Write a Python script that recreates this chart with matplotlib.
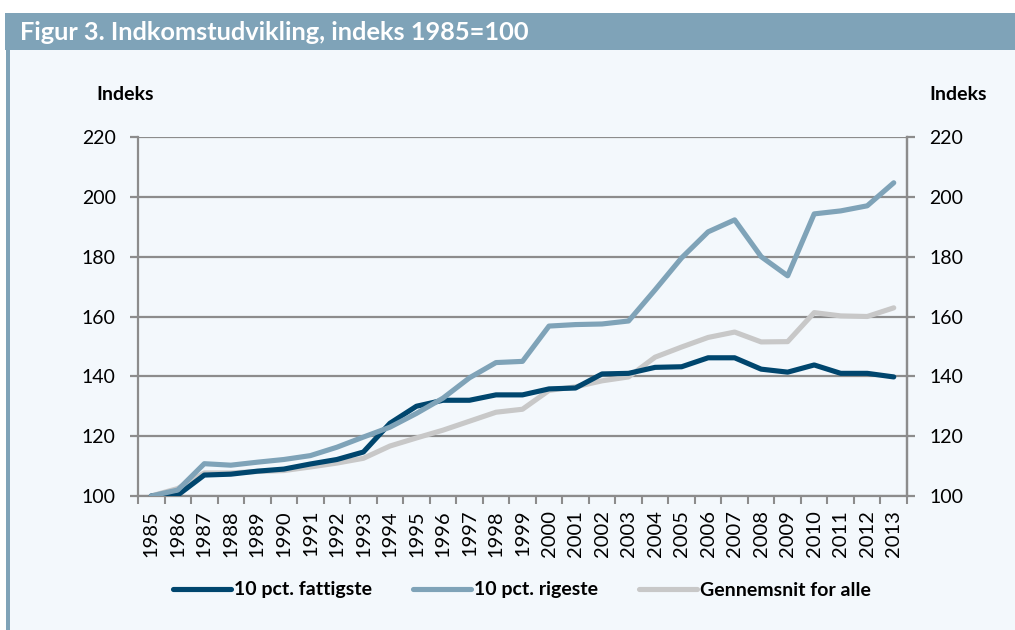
import matplotlib
matplotlib.use("Agg")
import matplotlib.pyplot as plt
from matplotlib.patches import Rectangle
from matplotlib.lines import Line2D

years = [str(y) for y in range(1985, 2014)]
poorest = [100, 100.3, 107, 107.3, 108.3, 109, 110.7, 112.2, 114.7, 124.3, 130, 132, 132, 133.8, 133.8,
           135.8, 136.1, 140.8, 141, 143, 143.2, 146.2, 146.2, 142.4, 141.4, 143.8, 141, 141, 139.8]
richest = [100, 102, 110.8, 110.3, 111.3, 112.2, 113.5, 116.3, 119.7, 123, 127.6, 132.7, 139.5, 144.6, 145,
           156.8, 157.3, 157.5, 158.5, 168.9, 179.6, 188.3, 192.3, 180, 173.6, 194.3, 195.3, 197, 204.7]
average = [100, 102.5, 107.7, 107.7, 108.2, 108.5, 109.7, 111, 112.6, 116.7, 119.4, 122, 125, 128, 129,
           135.3, 136.5, 138.5, 139.8, 146.4, 149.8, 153, 154.8, 151.5, 151.6, 161.3, 160.2, 160, 162.9]
series_names = ["10 pct. fattigste", "10 pct. rigeste", "Gennemsnit for alle"]
y_ticks = [100, 120, 140, 160, 180, 200, 220]
title = "Figur 3. Indkomstudvikling, indeks 1985=100"
y_label = "Indeks"

c_dark = "#00466e"
c_rich = "#7fa3b8"
c_avg = "#c8c8c8"
c_grid = "#8c8c8c"
font = "Lato"

W, H = 1015, 630
fig = plt.figure(figsize=(W / 100, H / 100), dpi=100, facecolor="white")

def fx(px):
    return px / W

def fy(py):
    return 1 - py / H

# panel background and frame
fig.patches.append(Rectangle((fx(7), 0), fx(W - 7), fy(48), transform=fig.transFigure,
                             facecolor="#f3f8fc", edgecolor="none", zorder=-10))
fig.patches.append(Rectangle((fx(5), fy(50)), fx(W - 5), (37) / H, transform=fig.transFigure,
                             facecolor=c_rich, edgecolor="none", zorder=-10))
fig.patches.append(Rectangle((fx(6), 0), fx(4), fy(50), transform=fig.transFigure,
                             facecolor=c_rich, edgecolor="none", zorder=-10))
fig.text(fx(20), fy(32), title, color="white", fontsize=18.3, fontweight="bold",
         family=font, va="center", ha="left")

ax = fig.add_axes([fx(138), fy(496), fx(907 - 138), (496 - 137) / H])
ax.set_facecolor("none")
x = list(range(len(years)))
ax.plot(x, poorest, color=c_dark, lw=3.7, solid_capstyle="round", solid_joinstyle="round", zorder=3)
ax.plot(x, richest, color=c_rich, lw=3.7, solid_capstyle="round", solid_joinstyle="round", zorder=3)
ax.plot(x, average, color=c_avg, lw=3.7, solid_capstyle="round", solid_joinstyle="round", zorder=2)

ax.set_xlim(-0.5, len(years) - 0.5)
ax.set_ylim(100, 220)
ax.set_yticks(y_ticks)
ax.set_yticklabels([str(v) for v in y_ticks], family=font, fontsize=14)
ax.yaxis.grid(True, color=c_grid, lw=1.6)
ax.set_axisbelow(True)

ax.set_xticks([i - 0.5 for i in range(len(years) + 1)])
ax.set_xticklabels([])
ax.set_xticks(x, minor=True)
ax.set_xticklabels(years, minor=True, rotation=90, family=font, fontsize=14.5)
ax.tick_params(axis="x", which="major", length=6, width=1.5, color=c_grid, direction="out")
ax.tick_params(axis="x", which="minor", length=0, pad=10)
ax.tick_params(axis="y", length=6, width=1.6, color=c_grid, direction="out", pad=10)

ax.spines["top"].set_visible(False)
for s in ["left", "right", "bottom"]:
    ax.spines[s].set_color(c_grid)
    ax.spines[s].set_linewidth(1.6)

ax2 = ax.twinx()
ax2.set_ylim(100, 220)
ax2.set_yticks(y_ticks)
ax2.set_yticklabels([str(v) for v in y_ticks], family=font, fontsize=14)
ax2.tick_params(axis="y", length=6, width=1.6, color=c_grid, direction="out", pad=10)
for s in ["top", "left", "bottom"]:
    ax2.spines[s].set_visible(False)
ax2.spines["right"].set_color(c_grid)
ax2.spines["right"].set_linewidth(1.6)

fig.text(fx(96), fy(95), y_label, family=font, fontsize=14, fontweight="bold", va="center", ha="left")
fig.text(fx(929), fy(95), y_label, family=font, fontsize=14, fontweight="bold", va="center", ha="left")

handles = [Line2D([], [], color=c, lw=3.7, solid_capstyle="round") for c in (c_dark, c_rich, c_avg)]
fig.legend(handles, series_names, loc="center", bbox_to_anchor=(fx(522), fy(590)), ncol=3,
           frameon=False, handlelength=3.0, handletextpad=0.15, columnspacing=2.1,
           prop={"family": font, "weight": "bold", "size": 14})

fig.savefig("out.png", dpi=100, facecolor="white")
